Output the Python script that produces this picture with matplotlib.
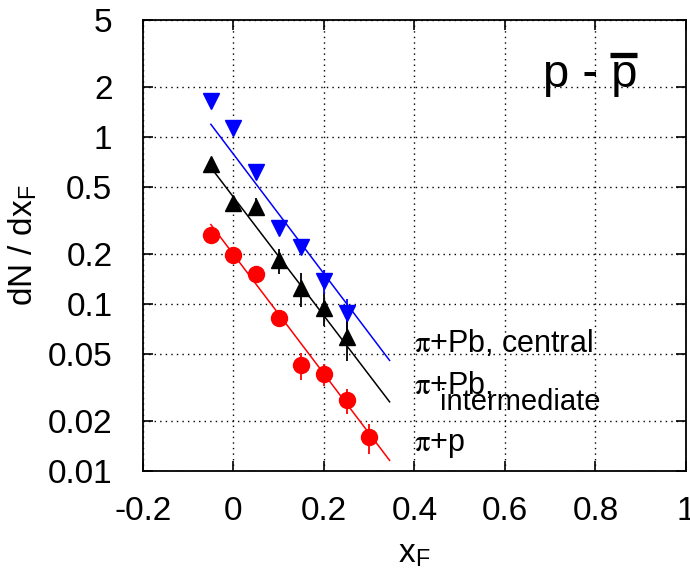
import numpy as np
import matplotlib
matplotlib.use("Agg")
import matplotlib.pyplot as plt

plt.rcParams['font.family'] = ['Liberation Sans', 'DejaVu Sans']
plt.rcParams['mathtext.fontset'] = 'stix'

# data
x_central = [-0.05, 0.0, 0.05, 0.1, 0.15, 0.2, 0.25]
y_central = [1.64, 1.13, 0.62, 0.284, 0.22, 0.137, 0.088]
err_central = [0.03, 0.03, 0.04, 0.08, 0.10, 0.16, 0.22]

x_interm = [-0.05, 0.0, 0.05, 0.1, 0.15, 0.2, 0.25]
y_interm = [0.687, 0.403, 0.382, 0.183, 0.124, 0.094, 0.0635]
err_interm = [0.04, 0.05, 0.12, 0.17, 0.23, 0.22, 0.28]

x_pp = [-0.05, 0.0, 0.05, 0.1, 0.15, 0.2, 0.25, 0.3]
y_pp = [0.258, 0.196, 0.151, 0.082, 0.043, 0.038, 0.0266, 0.0159]
err_pp = [0.04, 0.04, 0.05, 0.06, 0.18, 0.15, 0.17, 0.21]

# exponential fits A*exp(-b*x), drawn for x in fit_range
fit_range = (-0.05, 0.345)
fit_central = (0.788, 8.24)
fit_interm = (0.436, 8.18)
fit_pp = (0.198, 8.23)

yticks = [0.01, 0.02, 0.05, 0.1, 0.2, 0.5, 1, 2, 5]
ytick_labels = ["0.01", "0.02", "0.05", "0.1", "0.2", "0.5", "1", "2", "5"]
xticks = [-0.2, 0, 0.2, 0.4, 0.6, 0.8, 1]
xtick_labels = ["-0.2", "0", "0.2", "0.4", "0.6", "0.8", "1"]

fig = plt.figure(figsize=(6.9, 5.84), dpi=100)
ax = fig.add_axes([0.2072, 0.1935, 0.787, 0.772])

xf = np.linspace(fit_range[0], fit_range[1], 50)
series = [
    (x_central, y_central, err_central, fit_central, "#0000ff", "v", 12),
    (x_interm, y_interm, err_interm, fit_interm, "black", "^", 12),
    (x_pp, y_pp, err_pp, fit_pp, "#ff0000", "o", 11.5),
]
for xs, ys, es, (A, b), col, mk, ms in series:
    ys = np.array(ys)
    ax.plot(xf, A * np.exp(-b * xf), color=col, lw=1.1, zorder=2)
    ax.errorbar(xs, ys, yerr=ys * np.array(es), fmt=mk, color=col, ms=ms,
                mec=col, elinewidth=1.3, capsize=0, zorder=3)

ax.set_yscale("log")
ax.set_xlim(-0.2, 1)
ax.set_ylim(0.01, 5)
ax.set_yticks(yticks)
ax.set_yticklabels(ytick_labels)
ax.set_xticks(xticks)
ax.set_xticklabels(xtick_labels)
ax.minorticks_off()
ax.tick_params(direction="in", length=7, width=1.2, labelsize=24,
               top=True, right=True)
ax.tick_params(axis="y", pad=22)
ax.tick_params(axis="x", pad=18)
ax.grid(True, color="black", linestyle=(0, (1, 3)), lw=1.0)
for s in ax.spines.values():
    s.set_linewidth(1.3)

ax.set_xlabel("x$_{\\mathregular{F}}$", fontsize=24, labelpad=8)
ax.set_ylabel("dN / dx$_{\\mathregular{F}}$", fontsize=24, labelpad=6)

pi = "$\\mathrm{\\pi}$"
ax.text(0.4, 0.0516, pi + "+Pb, central", fontsize=22, va="baseline")
ax.text(0.4, 0.0288, pi + "+Pb,", fontsize=22, va="baseline")
ax.text(0.456, 0.0231, "intermediate", fontsize=21, va="baseline")
ax.text(0.4, 0.0132, pi + "+p", fontsize=22, va="baseline")

ax.text(0.788, 2.0, "p - p", fontsize=34, ha="center", va="baseline")
ax.plot([0.832, 0.892], [3.11, 3.11], color="black", lw=3.8,
        solid_capstyle="butt", clip_on=False)

fig.savefig("out.png", dpi=100)
